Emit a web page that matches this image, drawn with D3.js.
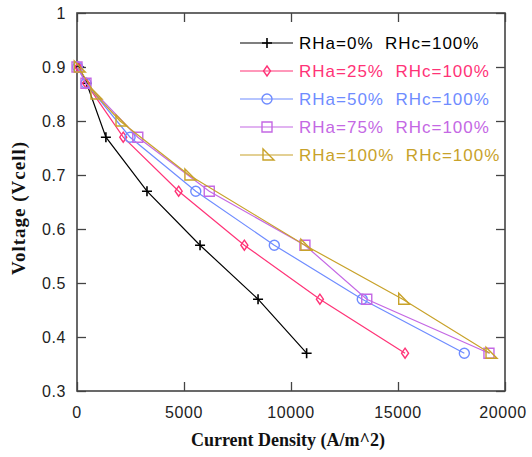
<!DOCTYPE html>
<html><head><meta charset="utf-8">
<script src="https://cdn.jsdelivr.net/npm/d3@7"></script>
<style>body{margin:0;background:#fff}svg{display:block}</style>
</head><body>
<script>
const seriesNames = ["RHa=0%  RHc=100%","RHa=25%  RHc=100%","RHa=50%  RHc=100%","RHa=75%  RHc=100%","RHa=100%  RHc=100%"];
const seriesColors = ["#000000","#ff3377","#6f8cff","#c468e4","#c8a22a"];
const seriesMarkers = ["plus","diamond","circle","square","triangle"];
const currentRH0   = [100, 450, 1350, 3270, 5750, 8460, 10730];
const voltageRH0   = [0.90, 0.87, 0.77, 0.67, 0.57, 0.47, 0.37];
const currentRH25  = [60, 420, 2160, 4750, 7820, 11350, 15330];
const voltageRH25  = [0.90, 0.87, 0.77, 0.67, 0.57, 0.47, 0.37];
const currentRH50  = [30, 420, 2480, 5550, 9220, 13330, 18100];
const voltageRH50  = [0.90, 0.87, 0.77, 0.67, 0.57, 0.47, 0.37];
const currentRH75  = [0, 420, 2840, 6180, 10650, 13540, 19250];
const voltageRH75  = [0.90, 0.87, 0.77, 0.67, 0.57, 0.47, 0.37];
const currentRH100 = [60, 840, 2010, 5230, 10650, 15220, 19300];
const voltageRH100 = [0.90, 0.85, 0.80, 0.70, 0.57, 0.47, 0.37];
const xTicks = [0, 5000, 10000, 15000, 20000];
const yTicks = [0.3, 0.4, 0.5, 0.6, 0.7, 0.8, 0.9, 1];

const xs = [currentRH0, currentRH25, currentRH50, currentRH75, currentRH100];
const ys = [voltageRH0, voltageRH25, voltageRH50, voltageRH75, voltageRH100];

const W = 532, H = 457;
const L = 77, R = 505, T = 13, B = 391;
const svg = d3.select("body").append("svg").attr("width", W).attr("height", H);
const x = d3.scaleLinear().domain([0, 20000]).range([L, R]);
const y = d3.scaleLinear().domain([0.3, 1]).range([B, T]);
const frame = "#444";

const xMinor = d3.range(0, 20001, 1000);
const yMinor = d3.range(0, 36).map(i => +(0.3 + i * 0.02).toFixed(2));

function tickSet(axisGen, scaleTicks, size) {
  return axisGen.tickValues(scaleTicks).tickSize(size).tickFormat("");
}
const gb = svg.append("g").attr("transform", `translate(0,${B})`);
gb.call(tickSet(d3.axisTop(x), xMinor, 5));
gb.call(tickSet(d3.axisTop(x), xTicks, 9));
const gt = svg.append("g").attr("transform", `translate(0,${T})`);
gt.call(tickSet(d3.axisBottom(x), xMinor, 5));
gt.call(tickSet(d3.axisBottom(x), xTicks, 9));
const gl = svg.append("g").attr("transform", `translate(${L},0)`);
gl.call(tickSet(d3.axisRight(y), yMinor, 5));
gl.call(tickSet(d3.axisRight(y), yTicks, 9));
const gr = svg.append("g").attr("transform", `translate(${R},0)`);
gr.call(tickSet(d3.axisLeft(y), yMinor, 5));
gr.call(tickSet(d3.axisLeft(y), yTicks, 9));
svg.selectAll(".domain").remove();
svg.selectAll(".tick line").attr("stroke", frame).attr("stroke-width", 1.3);
svg.append("rect").attr("x", L).attr("y", T).attr("width", R - L).attr("height", B - T)
  .attr("fill", "none").attr("stroke", frame).attr("stroke-width", 1.6);

const lblFont = "'Liberation Sans', Arial, sans-serif";
svg.append("g").selectAll("text").data(xTicks).join("text")
  .attr("x", d => x(d) + (d === 20000 ? -2 : 0)).attr("y", 418)
  .attr("text-anchor", "middle").attr("font-family", lblFont).attr("font-size", 16)
  .attr("letter-spacing", 0.6).attr("fill", "#222").text(d => d);
svg.append("g").selectAll("text").data(yTicks).join("text")
  .attr("x", 66).attr("y", d => y(d) + 6)
  .attr("text-anchor", "end").attr("font-family", lblFont).attr("font-size", 16)
  .attr("letter-spacing", 0.6).attr("fill", "#222").text(d => d);

svg.append("text").attr("x", 288).attr("y", 446).attr("text-anchor", "middle")
  .attr("font-family", "'Liberation Serif', 'Times New Roman', serif").attr("font-weight", "bold")
  .attr("font-size", 18).attr("fill", "#111").text("Current Density (A/m^2)");
svg.append("text").attr("transform", "translate(25,208) rotate(-90)").attr("text-anchor", "middle")
  .attr("font-family", "'Liberation Serif', 'Times New Roman', serif").attr("font-weight", "bold")
  .attr("font-size", 19).attr("letter-spacing", 1).attr("fill", "#111").text("Voltage (Vcell)");

function marker(g, type, color) {
  const s = g.append("path").attr("fill", "none").attr("stroke", color).attr("stroke-width", 1.4);
  if (type === "plus") s.attr("d", "M-5,0H5M0,-5V5").attr("stroke-width", 1.6);
  else if (type === "diamond") s.attr("d", "M0,-5L3.5,0L0,5L-3.5,0Z");
  else if (type === "circle") s.attr("d", "M5,0A5,5 0 1,1 -5,0A5,5 0 1,1 5,0");
  else if (type === "square") s.attr("d", "M-5,-5H5V5H-5Z");
  else if (type === "triangle") s.attr("d", "M-4,-6V5H7Z");
}

const line = d3.line().x(d => x(d[0])).y(d => y(d[1]));
xs.forEach((xv, i) => {
  const pts = xv.map((v, j) => [v, ys[i][j]]);
  const g = svg.append("g");
  g.append("path").datum(pts).attr("d", line).attr("fill", "none")
    .attr("stroke", seriesColors[i]).attr("stroke-width", 1.2);
  pts.forEach(p => {
    const m = g.append("g").attr("transform", `translate(${x(p[0])},${y(p[1])})`);
    marker(m, seriesMarkers[i], seriesColors[i]);
  });
});

const leg = svg.append("g");
seriesNames.forEach((name, i) => {
  const ly = 43 + i * 28;
  leg.append("line").attr("x1", 240).attr("x2", 293).attr("y1", ly).attr("y2", ly)
    .attr("stroke", seriesColors[i]).attr("stroke-width", 1.2);
  const m = leg.append("g").attr("transform", `translate(267,${ly})`);
  marker(m, seriesMarkers[i], seriesColors[i]);
  leg.append("text").attr("x", 299).attr("y", ly + 6).attr("font-family", lblFont)
    .attr("font-size", 17).attr("letter-spacing", 1.0).attr("fill", seriesColors[i])
    .style("white-space", "pre").text(name);
});
</script>
</body></html>
